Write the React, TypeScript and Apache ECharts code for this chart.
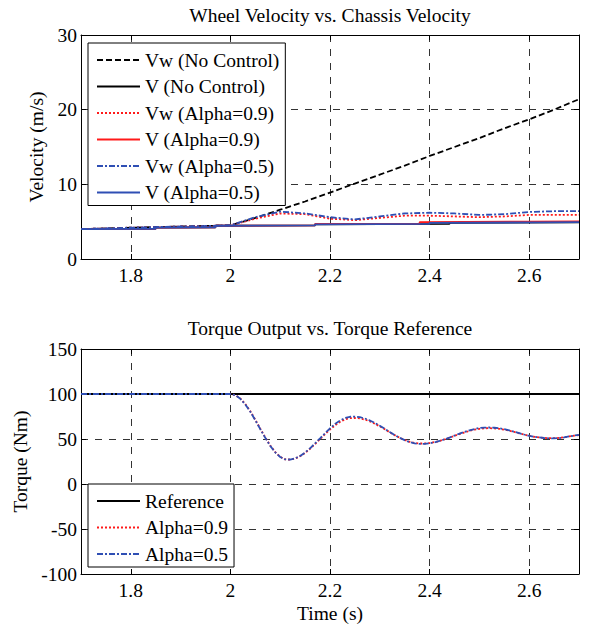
import React, { useEffect, useRef } from "react";
import * as echarts from "echarts";

// ---------- Top plot data (velocity, m/s) ----------
const vwTime = [1.7, 1.8, 1.9, 2.0, 2.05, 2.1, 2.15, 2.2, 2.25, 2.3, 2.35, 2.4, 2.45, 2.5, 2.55, 2.6, 2.65, 2.7];
const vwNoControl = [4.0, 4.2, 4.35, 4.5, 5.5, 6.6, 7.7, 8.9, 10.1, 11.3, 12.5, 13.8, 15.0, 16.2, 17.5, 18.7, 20.0, 21.4];
const vwAlpha09 = [4.0, 4.2, 4.35, 4.5, 5.4, 6.1, 6.0, 5.4, 5.2, 5.5, 5.8, 5.8, 5.7, 5.6, 5.7, 5.9, 5.9, 5.9];
const vwAlpha05 = [4.0, 4.2, 4.35, 4.5, 5.6, 6.35, 6.1, 5.6, 5.3, 5.7, 6.1, 6.2, 6.1, 5.9, 6.0, 6.3, 6.4, 6.4];

const vNoCtrlTime = [1.7, 1.85, 1.85, 1.97, 1.97, 2.17, 2.17, 2.44, 2.44, 2.7];
const vNoControl = [4.0, 4.05, 4.2, 4.25, 4.45, 4.5, 4.65, 4.7, 4.85, 4.9];
const vA09Time = [1.7, 1.85, 1.85, 1.97, 1.97, 2.17, 2.17, 2.38, 2.38, 2.6, 2.6, 2.7];
const vAlpha09 = [4.0, 4.05, 4.2, 4.25, 4.45, 4.5, 4.7, 4.75, 4.95, 5.0, 5.05, 5.05];
const vA05Time = [1.7, 1.85, 1.85, 1.97, 1.97, 2.17, 2.17, 2.4, 2.4, 2.62, 2.62, 2.7];
const vAlpha05 = [4.0, 4.05, 4.2, 4.25, 4.45, 4.5, 4.65, 4.7, 4.85, 4.9, 4.95, 4.95];

// ---------- Bottom plot data (torque, Nm) ----------
const refTime = [1.7, 2.7];
const torqueRef = [100, 100];
const torqueTime = [
  1.7, 1.8, 1.9, 2.0,
  2.01, 2.02, 2.03, 2.04, 2.05, 2.06, 2.07, 2.08, 2.09, 2.1,
  2.11, 2.12, 2.13, 2.14, 2.15, 2.16, 2.17, 2.18, 2.19, 2.2,
  2.21, 2.22, 2.23, 2.24, 2.25, 2.26, 2.27, 2.28, 2.29, 2.3,
  2.31, 2.32, 2.33, 2.34, 2.35, 2.36, 2.37, 2.38, 2.39, 2.4,
  2.41, 2.42, 2.43, 2.44, 2.45, 2.46, 2.47, 2.48, 2.49, 2.5,
  2.51, 2.52, 2.53, 2.54, 2.55, 2.56, 2.57, 2.58, 2.59, 2.6,
  2.61, 2.62, 2.63, 2.64, 2.65, 2.66, 2.67, 2.68, 2.69, 2.7,
];
const torqueAlpha05 = [
  100, 100, 100, 100,
  98.6, 94.7, 88.4, 80.3, 70.9, 61.0, 51.3, 42.4, 35.2, 30.0,
  27.3, 27.2, 28.5, 31.2, 35.0, 39.7, 45.1, 50.7, 56.4, 61.8,
  66.6, 70.5, 73.3, 74.7, 74.9, 74.2, 72.8, 70.6, 67.9, 64.7,
  61.3, 57.8, 54.4, 51.3, 48.7, 46.6, 45.2, 44.5, 44.6, 45.2,
  46.3, 47.8, 49.6, 51.6, 53.8, 55.9, 57.9, 59.7, 61.1, 62.2,
  62.7, 62.8, 62.5, 61.9, 60.9, 59.5, 58.0, 56.5, 55.0, 53.6,
  52.5, 51.7, 51.1, 50.8, 50.7, 51.0, 51.8, 52.8, 53.8, 54.6,
];
const torqueAlpha09 = [
  100, 100, 100, 100,
  98.8, 95.0, 88.8, 80.8, 71.4, 61.5, 51.8, 42.8, 35.5, 30.2,
  27.4, 27.1, 28.2, 30.8, 34.5, 39.1, 44.4, 49.9, 55.4, 60.6,
  65.2, 69.0, 71.7, 73.1, 73.4, 72.9, 71.6, 69.6, 67.0, 64.0,
  60.8, 57.5, 54.3, 51.4, 48.9, 46.9, 45.6, 45.0, 45.0, 45.5,
  46.5, 47.9, 49.6, 51.5, 53.5, 55.5, 57.3, 59.0, 60.3, 61.3,
  61.9, 62.0, 61.8, 61.3, 60.4, 59.2, 57.8, 56.3, 54.9, 53.6,
  52.5, 51.7, 51.2, 50.9, 50.9, 51.2, 51.9, 52.8, 53.7, 54.4,
];

const FONT = "Liberation Serif";
const FS = 19.5;
const RED = "#ff1a1a";
const BLUE = "#2f4fb4";
const BLACK = "#000000";
const DASH = [6, 3];
const DOT = [2, 2];
const DASHDOT = [6, 2, 2, 2];

const zip = (t: number[], v: number[]) => t.map((x, i) => [x, v[i]]);

function line(name: string, t: number[], v: number[], color: string, type: any, axis: number) {
  return {
    name,
    type: "line",
    xAxisIndex: axis * 2,
    yAxisIndex: axis * 2,
    data: zip(t, v),
    symbol: "none",
    showSymbol: false,
    lineStyle: { color, width: 1.8, type },
    itemStyle: { color },
    emphasis: { disabled: true },
  };
}

export default function App() {
  const ref = useRef<HTMLDivElement>(null);
  useEffect(() => {
    if (!ref.current) return;
    const chart = echarts.init(ref.current, null, { renderer: "svg" });
    const plain = { fontFamily: FONT, fontSize: FS, color: "#000" };
    const rich = { a: { fontFamily: FONT, fontSize: FS, color: "#000", lineHeight: 20 } };
    const fmt = (v: any) => "{a|" + v + "}";
    const splitLine = { show: true, lineStyle: { color: "#333", width: 1, type: [7, 7] } };
    const tick = { show: true, inside: true, length: 5, lineStyle: { color: "#000", width: 1 } };
    const xAxisBase = (gridIndex: number, name: string) => ({
      type: "value",
      gridIndex,
      position: "bottom",
      min: 1.7,
      max: 2.7,
      splitNumber: 5,
      name,
      nameLocation: "middle",
      nameGap: 29,
      nameTextStyle: plain,
      axisLine: { show: true, onZero: false, lineStyle: { color: "#000", width: 1 } },
      axisTick: tick,
      axisLabel: { formatter: fmt, rich, margin: 6, showMinLabel: false, showMaxLabel: false },
      splitLine,
    });
    const xAxisTop = (gridIndex: number) => ({
      type: "value",
      gridIndex,
      position: "top",
      min: 1.7,
      max: 2.7,
      splitNumber: 5,
      axisLine: { show: true, onZero: false, lineStyle: { color: "#000", width: 1 } },
      axisTick: tick,
      axisLabel: { show: false },
      splitLine: { show: false },
    });
    const yAxisBase = (gridIndex: number, min: number, max: number, interval: number, name: string, gap: number) => ({
      type: "value",
      gridIndex,
      position: "left",
      min,
      max,
      interval,
      name,
      nameLocation: "middle",
      nameGap: gap,
      nameTextStyle: plain,
      axisLine: { show: true, onZero: false, lineStyle: { color: "#000", width: 1 } },
      axisTick: tick,
      axisLabel: { formatter: fmt, rich, margin: 4 },
      splitLine,
    });
    const yAxisRight = (gridIndex: number, min: number, max: number, interval: number) => ({
      type: "value",
      gridIndex,
      position: "right",
      min,
      max,
      interval,
      axisLine: { show: true, onZero: false, lineStyle: { color: "#000", width: 1 } },
      axisTick: tick,
      axisLabel: { show: false },
      splitLine: { show: false },
    });
    const legendBase = {
      orient: "vertical",
      left: 88,
      backgroundColor: "#fff",
      borderColor: "#000",
      borderWidth: 1,
      borderRadius: 0,
      padding: [7, 6, 3, 8],
      itemWidth: 43,
      itemHeight: 14,
      itemGap: 6.5,
      selectedMode: false,
      itemStyle: { opacity: 0 },
      formatter: fmt,
      textStyle: { rich },
    };
    chart.setOption({
      animation: false,
      backgroundColor: "#fff",
      graphic: [
        {
          type: "text",
          x: 330,
          y: 15,
          style: { text: "Wheel Velocity vs. Chassis Velocity", textAlign: "center", textVerticalAlign: "middle", font: `${FS}px ${FONT}`, fill: "#000" },
        },
        {
          type: "text",
          x: 330,
          y: 328,
          style: { text: "Torque Output vs. Torque Reference", textAlign: "center", textVerticalAlign: "middle", font: `${FS}px ${FONT}`, fill: "#000" },
        },
      ],
      grid: [
        { left: 81, top: 35, width: 498, height: 224, show: false },
        { left: 81, top: 349, width: 498, height: 225, show: false },
      ],
      xAxis: [xAxisBase(0, ""), xAxisTop(0), xAxisBase(1, "Time (s)"), xAxisTop(1)],
      yAxis: [
        yAxisBase(0, 0, 30, 10, "Velocity (m/s)", 29),
        yAxisRight(0, 0, 30, 10),
        yAxisBase(1, -100, 150, 50, "Torque (Nm)", 31),
        yAxisRight(1, -100, 150, 50),
      ],
      legend: [
        {
          ...legendBase,
          top: 43,
          data: ["Vw (No Control)", "V (No Control)", "Vw (Alpha=0.9)", "V (Alpha=0.9)", "Vw (Alpha=0.5)", "V (Alpha=0.5)"],
        },
        {
          ...legendBase,
          top: 484,
          data: ["Reference", "Alpha=0.9", "Alpha=0.5"],
        },
      ],
      series: [
        line("Vw (No Control)", vwTime, vwNoControl, BLACK, DASH, 0),
        line("V (No Control)", vNoCtrlTime, vNoControl, BLACK, "solid", 0),
        line("Vw (Alpha=0.9)", vwTime, vwAlpha09, RED, DOT, 0),
        line("V (Alpha=0.9)", vA09Time, vAlpha09, RED, "solid", 0),
        line("Vw (Alpha=0.5)", vwTime, vwAlpha05, BLUE, DASHDOT, 0),
        line("V (Alpha=0.5)", vA05Time, vAlpha05, BLUE, "solid", 0),
        line("Reference", refTime, torqueRef, BLACK, "solid", 1),
        line("Alpha=0.9", torqueTime, torqueAlpha09, RED, DOT, 1),
        line("Alpha=0.5", torqueTime, torqueAlpha05, BLUE, DASHDOT, 1),
      ],
    });
    return () => chart.dispose();
  }, []);
  return (
    <div
      ref={ref}
      style={{ position: "absolute", left: 0, top: 0, width: 600, height: 628, background: "#fff" }}
    />
  );
}
